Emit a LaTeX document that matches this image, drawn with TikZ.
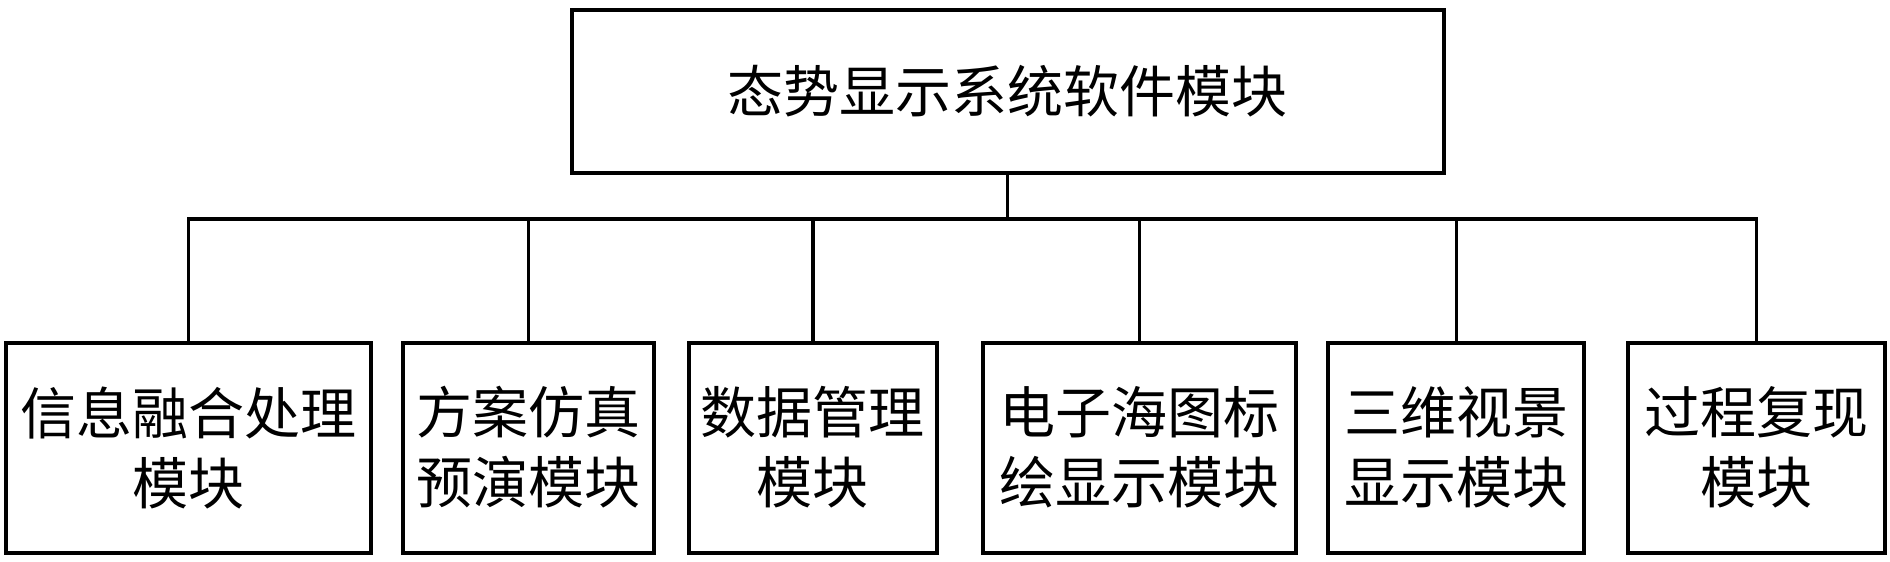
\documentclass[tikz,border=0pt]{standalone}
\usepackage{fontspec}
\newfontfamily\cjk{Noto Sans CJK SC}
\begin{document}
\begin{tikzpicture}[x=0.5pt,y=-0.5pt,
  box/.style={draw, line width=2pt, font=\cjk\fontsize{28}{35}\selectfont, align=center, inner sep=0pt, minimum height=105pt},
  wire/.style={line width=1.8pt}]
\useasboundingbox (0,0) rectangle (1890,562);
\node[box, minimum width=436pt, minimum height=81.5pt] (top) at (1007.5,91) {态势显示系统软件模块};
\node[box, minimum width=182.5pt] (b1) at (188.4,447.5) {信息融合处理\\模块};
\node[box, minimum width=125.5pt] (b2) at (528.3,447.5) {方案仿真\\预演模块};
\node[box, minimum width=124pt] (b3) at (812.9,447.5) {数据管理\\模块};
\node[box, minimum width=156.5pt] (b4) at (1139.4,447.5) {电子海图标\\绘显示模块};
\node[box, minimum width=128pt] (b5) at (1456.4,447.5) {三维视景\\显示模块};
\node[box, minimum width=128.5pt] (b6) at (1756.6,447.5) {过程复现\\模块};
\coordinate (bus) at (0,219);
\draw[wire] (top.south) -- (top.south |- bus);
\draw[wire] (b1.north) -- (b1.north |- bus) -- (b6.north |- bus) -- (b6.north);
\foreach \b in {b2,b3,b4,b5} \draw[wire] (\b.north) -- (\b.north |- bus);
\end{tikzpicture}
\end{document}
